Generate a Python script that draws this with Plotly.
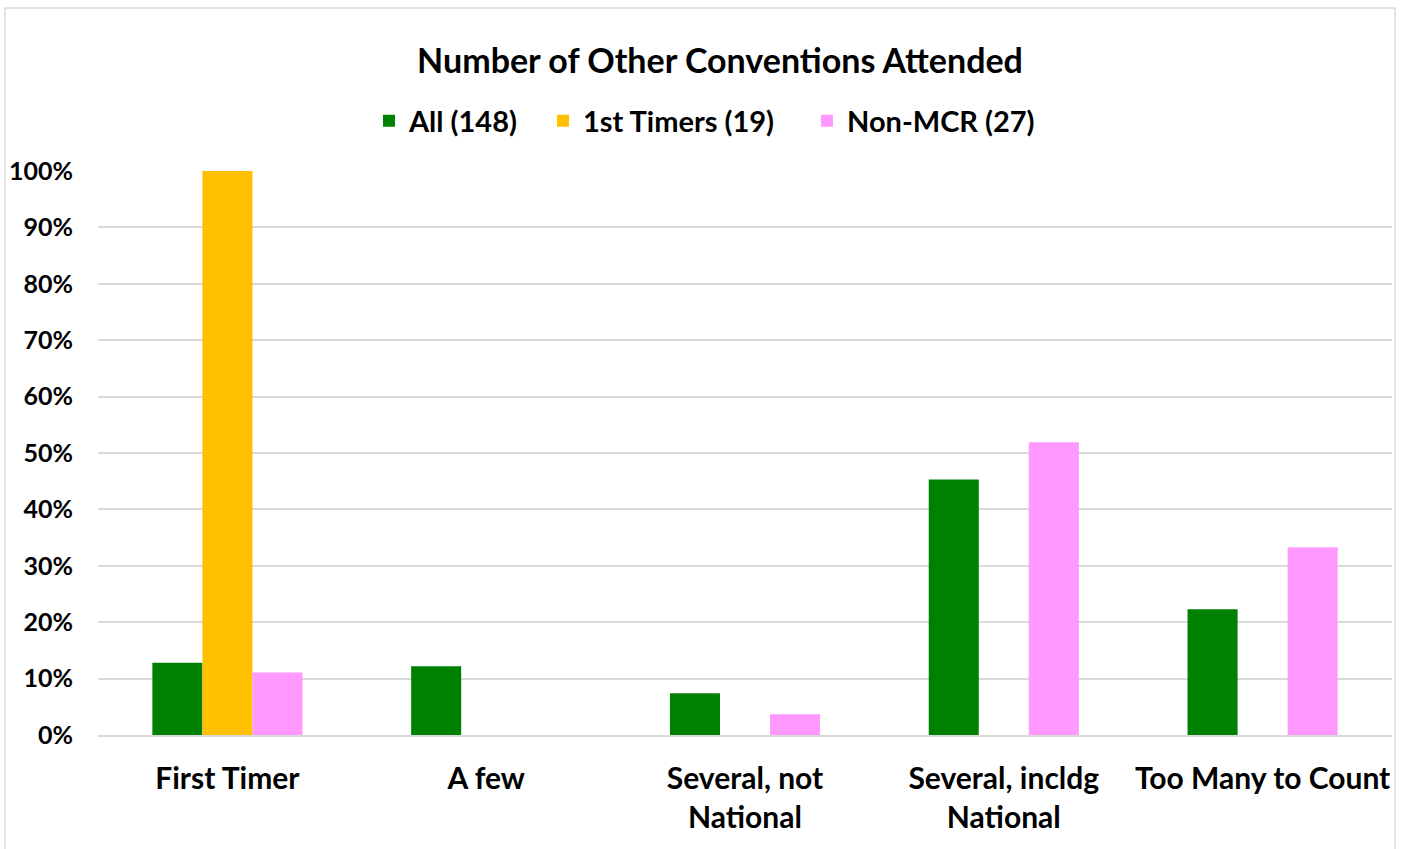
import plotly.graph_objects as go

categories = ["First Timer", "A few", "Several, not<br>National", "Several, incldg<br>National", "Too Many to Count"]
all_148 = [12.8, 12.2, 7.4, 45.3, 22.3]
first_timers_19 = [100.0, 0, 0, 0, 0]
non_mcr_27 = [11.1, 0, 3.7, 51.9, 33.3]
series_names = ["All (148)", "1st Timers (19)", "Non-MCR (27)"]
colors = ["#008000", "#FFC000", "#FF99FF"]
y_ticks = [0, 10, 20, 30, 40, 50, 60, 70, 80, 90, 100]

FONT = "Lato"
W, H = 1409, 849
L, R, T, B = 98, 17, 171, 114
pw, ph = W - L - R, H - T - B

legend_ids = ["legend", "legend2", "legend3"]
legend_left_px = [369, 543, 807]

fig = go.Figure()
for name, vals, c, lg in zip(series_names, [all_148, first_timers_19, non_mcr_27], colors, legend_ids):
    fig.add_trace(go.Bar(name=name, x=categories, y=vals, legend=lg,
                         marker=dict(color=c, line=dict(width=0))))

legend_common = dict(orientation="h", xanchor="left", y=(H - B - 121) / ph, yanchor="middle",
                     font=dict(size=29, family=FONT, color="black", weight="bold"),
                     bgcolor="rgba(0,0,0,0)")
legends = {lg: dict(x=(px - L) / pw, **legend_common) for lg, px in zip(legend_ids, legend_left_px)}

fig.update_layout(
    width=W, height=H,
    margin=dict(l=L, r=R, t=T, b=B, autoexpand=False),
    paper_bgcolor="white", plot_bgcolor="white",
    barmode="group", bargap=0.42, bargroupgap=0,
    font=dict(family=FONT, color="black"),
    title=dict(text="<b>Number of Other Conventions Attended</b>", x=720 / W, xanchor="center",
               y=1 - 61 / H, yanchor="middle", font=dict(size=34, family=FONT, color="black")),
    showlegend=True,
    **legends,
)
fig.update_yaxes(range=[0, 100], tickvals=y_ticks, ticktext=[f"<b>{v}%</b>" for v in y_ticks],
                 showgrid=True, gridcolor="#D9D9D9", gridwidth=1.5, zeroline=False,
                 showline=False, ticks="", tickfont=dict(size=25, family=FONT, color="black"),
                 ticklabelstandoff=24, fixedrange=True, automargin=False)
fig.update_xaxes(showline=True, linecolor="#D9D9D9", linewidth=1.5, ticks="", automargin=False,
                 tickvals=categories, ticktext=[f"<b>{c}</b>" for c in categories],
                 tickfont=dict(size=30, family=FONT, color="black"), ticklabelstandoff=16)
fig.add_shape(type="rect", xref="paper", yref="paper",
              x0=(5 - L) / pw, x1=(1395 - L) / pw, y0=(H - B - 860) / ph, y1=(H - B - 8) / ph,
              line=dict(color="#D9D9D9", width=1.5), fillcolor="rgba(0,0,0,0)", layer="below")
fig.write_html("out.html", config={"displayModeBar": False},
               post_script="document.body.style.margin='0';document.body.style.overflow='hidden';")
